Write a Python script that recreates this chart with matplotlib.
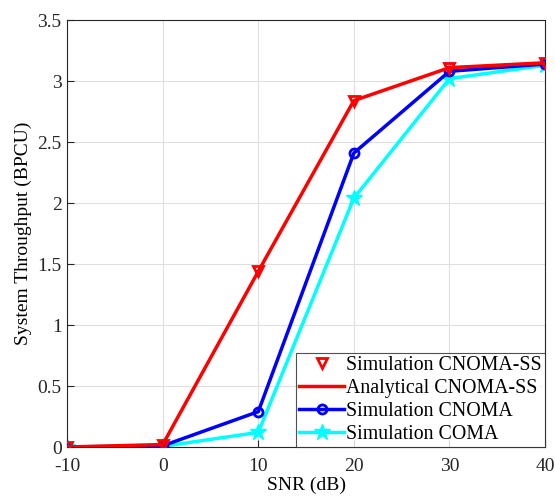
import numpy as np
import matplotlib.pyplot as plt

plt.rcParams['font.family'] = ['Liberation Serif', 'DejaVu Serif']
plt.rcParams['axes.unicode_minus'] = False

snr = [-10, 0, 10, 20, 30, 40]
sim_cnoma_ss = [0.0, 0.02, 1.44, 2.84, 3.11, 3.15]
ana_cnoma_ss = [0.0, 0.02, 1.44, 2.84, 3.11, 3.15]
sim_cnoma = [0.0, 0.01, 0.29, 2.41, 3.08, 3.14]
sim_coma = [0.0, 0.005, 0.12, 2.04, 3.02, 3.13]

fig = plt.figure(figsize=(5.55, 4.97), dpi=100)
ax = fig.add_axes([0.121, 0.1006, 0.861, 0.859])

ax.plot(snr, sim_cnoma_ss, 'v', color='red', markersize=7, markeredgewidth=2,
        markerfacecolor='none', label='Simulation CNOMA-SS', zorder=5)
ax.plot(snr, ana_cnoma_ss, '-', color='red', linewidth=2.5, label='Analytical CNOMA-SS', zorder=4)
ax.plot(snr, sim_cnoma, '-o', color='blue', linewidth=2.5, markersize=6.5, markeredgewidth=2,
        markerfacecolor='none', label='Simulation CNOMA', zorder=3)
ax.plot(snr, sim_coma, '-*', color='cyan', linewidth=2.5, markersize=12,
        label='Simulation COMA', zorder=2)

ax.set_xlim(-10, 40)
ax.set_ylim(0, 3.5)
ax.set_xticks(snr)
ax.set_yticks([0, 0.5, 1, 1.5, 2, 2.5, 3, 3.5])
ax.set_yticklabels(['0', '0.5', '1', '1.5', '2', '2.5', '3', '3.5'])
ax.grid(True, color='#e0e0e0', linewidth=0.8)
ax.tick_params(direction='in', labelsize=14, length=5, colors='#262626')
ax.tick_params(axis='x', pad=8)
ax.tick_params(axis='y', pad=4)
for s in ax.spines.values():
    s.set_color('#262626')
    s.set_linewidth(0.8)
ax.set_xlabel('SNR (dB)', fontsize=14, labelpad=1)
ax.set_ylabel('System Throughput (BPCU)', fontsize=14, labelpad=4)

leg = ax.legend(loc='lower right', fontsize=14.3, frameon=True, fancybox=False,
                borderpad=0.15, labelspacing=0.2, handlelength=2.3, handletextpad=0.1,
                borderaxespad=0)
leg.get_frame().set_edgecolor('#262626')
leg.get_frame().set_linewidth(0.8)

fig.savefig('out.png', dpi=100)
